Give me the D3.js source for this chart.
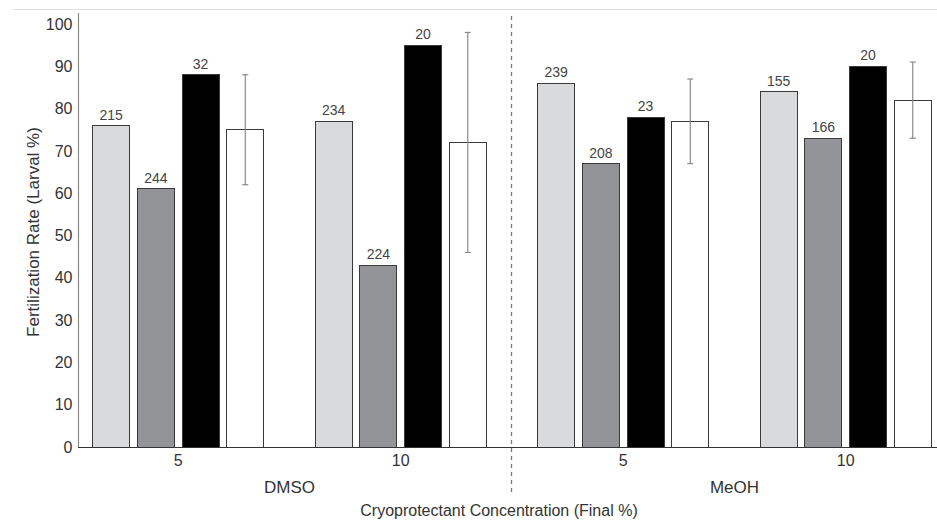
<!DOCTYPE html>
<meta charset="utf-8">
<script src="https://cdn.jsdelivr.net/npm/d3@7"></script>
<style type="text/css">
body { margin: 0; background: #fff; }
text { font-family: "Liberation Sans", Arial, sans-serif; fill: #333; }
.bar { stroke: #3a3a3a; stroke-width: 1; shape-rendering: crispEdges; }
.err { stroke: #8a8a8a; stroke-width: 1.2; fill: none; }
</style>
<body>
<script>

// data
var groups = ["DMSO 5", "DMSO 10", "MeOH 5", "MeOH 10"];
var tickLabels = ["5", "10", "5", "10"];
var solvents = ["DMSO", "MeOH"];
var series = ["s1", "s2", "s3", "mean"];
var s1 = [76, 77, 86, 84];
var s2 = [61, 43, 67, 73];
var s3 = [88, 95, 78, 90];
var meanVal = [75, 72, 77, 82];
var errLow = [62, 46, 67, 73];
var errHigh = [88, 98, 87, 91];
var n1 = [215, 234, 239, 155];
var n2 = [244, 224, 208, 166];
var n3 = [32, 20, 23, 20];
var yTicks = [0, 10, 20, 30, 40, 50, 60, 70, 80, 90, 100];

var colors = { s1: "#d9dadc", s2: "#939497", s3: "#000000", mean: "#ffffff" };

var width = 937, height = 531;

var svg = d3.select("body").append("svg")
    .attr("width", width)
    .attr("height", height);

var x = d3.scaleBand().domain(groups).range([67, 957]);
var xInner = d3.scaleBand().domain(series).range([0, x.bandwidth()])
    .paddingInner(0.172).paddingOuter(0.576);
var y = d3.scaleLinear().domain([0, 100]).range([447, 24]);

// faint top rule
svg.append("line").attr("x1", 13).attr("x2", width).attr("y1", 9.5).attr("y2", 9.5)
    .style("stroke", "#e2e2e2");

// y axis
var yAxis = d3.axisLeft(y).tickValues(yTicks).tickSize(0).tickPadding(6);
var gy = svg.append("g").attr("transform", "translate(78.5,0)").call(yAxis);
gy.select(".domain").remove();
gy.selectAll("text").style("font-size", "16px").style("fill", "#333")
    .style("font-family", "'Liberation Sans', Arial, sans-serif");
svg.append("line").attr("x1", 78.5).attr("x2", 78.5).attr("y1", 13).attr("y2", y(0))
    .style("stroke", "#8a8a8a").style("stroke-width", 1.2);

// bars
var rows = groups.map(function(g, i) {
    return { g: g, s1: s1[i], s2: s2[i], s3: s3[i], mean: meanVal[i],
             lo: errLow[i], hi: errHigh[i], n: [n1[i], n2[i], n3[i]] };
});

var gGroup = svg.selectAll(".grp").data(rows).enter().append("g")
    .attr("class", "grp")
    .attr("transform", function(d) { return "translate(" + x(d.g) + ",0)"; });

gGroup.selectAll("rect").data(function(d) {
        return series.map(function(k) { return { k: k, v: d[k] }; });
    }).enter().append("rect")
    .attr("class", "bar")
    .attr("x", function(d) { return xInner(d.k); })
    .attr("y", function(d) { return y(d.v); })
    .attr("width", xInner.bandwidth())
    .attr("height", function(d) { return y(0) - y(d.v); })
    .style("fill", function(d) { return colors[d.k]; });

// n labels above the first three bars
gGroup.selectAll(".nlab").data(function(d) {
        return ["s1", "s2", "s3"].map(function(k, j) { return { k: k, v: d[k], n: d.n[j] }; });
    }).enter().append("text")
    .attr("class", "nlab")
    .attr("x", function(d) { return xInner(d.k) + xInner.bandwidth() / 2; })
    .attr("y", function(d) { return y(d.v) - 6; })
    .attr("text-anchor", "middle")
    .style("font-size", "14px")
    .style("fill", "#444")
    .text(function(d) { return d.n; });

// error bars on the mean bar
var ex = xInner("mean") + xInner.bandwidth() / 2;
gGroup.append("line").attr("class", "err")
    .attr("x1", ex).attr("x2", ex)
    .attr("y1", function(d) { return y(d.hi); })
    .attr("y2", function(d) { return y(d.lo); });
gGroup.append("line").attr("class", "err")
    .attr("x1", ex - 3).attr("x2", ex + 3)
    .attr("y1", function(d) { return y(d.hi); })
    .attr("y2", function(d) { return y(d.hi); });
gGroup.append("line").attr("class", "err")
    .attr("x1", ex - 3).attr("x2", ex + 3)
    .attr("y1", function(d) { return y(d.lo); })
    .attr("y2", function(d) { return y(d.lo); });

// x axis
svg.append("line").attr("x1", 78).attr("x2", width).attr("y1", y(0) + 0.5).attr("y2", y(0) + 0.5)
    .style("stroke", "#333").style("stroke-width", 1.2);
var xAxis = d3.axisBottom(x).tickSize(0).tickPadding(8)
    .tickFormat(function(d, i) { return tickLabels[i]; });
var gx = svg.append("g").attr("transform", "translate(0," + y(0) + ")").call(xAxis);
gx.select(".domain").remove();
gx.selectAll("text").style("font-size", "16px").style("fill", "#333")
    .style("font-family", "'Liberation Sans', Arial, sans-serif");

// solvent labels
svg.selectAll(".solv").data(solvents).enter().append("text")
    .attr("class", "solv")
    .attr("x", function(d, i) { return (x(groups[2 * i]) + x(groups[2 * i + 1]) + x.bandwidth()) / 2; })
    .attr("y", 493)
    .attr("text-anchor", "middle")
    .style("font-size", "17px")
    .text(function(d) { return d; });

// dashed divider
var divX = x(groups[2]) - 0.5;
svg.append("line").attr("x1", divX).attr("x2", divX).attr("y1", 16).attr("y2", 495)
    .style("stroke", "#777").style("stroke-width", 1.3).style("stroke-dasharray", "4,4");

// axis titles
svg.append("text")
    .attr("x", 499).attr("y", 516)
    .attr("text-anchor", "middle")
    .style("font-size", "16px")
    .text("Cryoprotectant Concentration (Final %)");

svg.append("text")
    .attr("transform", "translate(39," + 232 + ") rotate(-90)")
    .attr("text-anchor", "middle")
    .style("font-size", "17px")
    .text("Fertilization Rate (Larval %)");

</script>
</body>
</html>
